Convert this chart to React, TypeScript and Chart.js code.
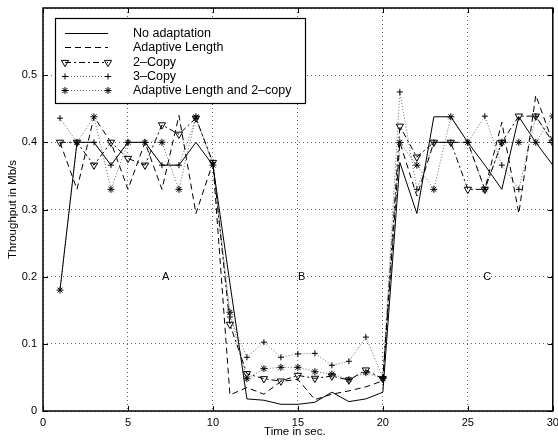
import React, { useEffect, useRef } from 'react';
import { Chart, registerables } from 'chart.js';
import { drawPoint } from 'chart.js/helpers';

Chart.register(...registerables);

const timeSec = [1, 2, 3, 4, 5, 6, 7, 8, 9, 10, 11, 12, 13, 14, 15, 16, 17, 18, 19, 20, 21, 22, 23, 24, 25, 26, 27, 28, 29, 30];

const noAdaptation = [0.18, 0.40, 0.40, 0.366, 0.40, 0.40, 0.366, 0.366, 0.40, 0.366, 0.19, 0.018, 0.016, 0.01, 0.01, 0.013, 0.028, 0.014, 0.018, 0.028, 0.37, 0.294, 0.438, 0.438, 0.40, 0.366, 0.33, 0.438, 0.40, 0.366];
const adaptiveLength = [0.40, 0.33, 0.438, 0.40, 0.33, 0.40, 0.33, 0.44, 0.294, 0.37, 0.024, 0.035, 0.025, 0.044, 0.047, 0.017, 0.025, 0.03, 0.036, 0.045, 0.40, 0.32, 0.40, 0.40, 0.40, 0.33, 0.43, 0.294, 0.47, 0.40];
const twoCopy = [0.40, 0.40, 0.366, 0.40, 0.376, 0.366, 0.426, 0.412, 0.436, 0.37, 0.129, 0.0555, 0.048, 0.0445, 0.053, 0.0486, 0.052, 0.046, 0.061, 0.048, 0.424, 0.378, 0.40, 0.40, 0.33, 0.33, 0.40, 0.439, 0.439, 0.40];
const threeCopy = [0.436, 0.40, 0.40, 0.366, 0.40, 0.40, 0.366, 0.366, 0.436, 0.37, 0.14, 0.08, 0.1025, 0.08, 0.085, 0.0858, 0.068, 0.074, 0.11, 0.05, 0.475, 0.33, 0.40, 0.40, 0.40, 0.439, 0.366, 0.33, 0.439, 0.40];
const adaptiveTwoCopy = [0.18, 0.40, 0.438, 0.33, 0.40, 0.40, 0.40, 0.33, 0.438, 0.366, 0.147, 0.048, 0.063, 0.065, 0.065, 0.0585, 0.055, 0.047, 0.057, 0.0486, 0.40, 0.366, 0.33, 0.438, 0.40, 0.33, 0.40, 0.40, 0.40, 0.439];

const seriesNames = ['No adaptation', 'Adaptive Length', '2\u2013Copy', '3\u2013Copy', 'Adaptive Length and 2\u2013copy'];

const xTickValues = [0, 5, 10, 15, 20, 25, 30];
const yTickLabels = ['0', '0.1', '0.2', '0.3', '0.4', '0.5'];

const regionLabels = ['A', 'B', 'C'];
const regionTimes = [7, 15, 25.9];
const regionLevel = 0.2;

const xTitle = 'Time in sec.';
const yTitle = 'Throughput in Mb/s';

const FONT = '"Liberation Sans", Arial, Helvetica, sans-serif';

const DOT = 'rgba(0,0,0,0.6)';

const styles = [
  { color: '#000', dash: [] as number[], point: false as any, radius: 0, pw: 1 },
  { color: '#000', dash: [6, 4], point: false as any, radius: 0, pw: 1 },
  { color: '#000', dash: [6, 3, 2, 3], point: 'triangle', radius: 4.2, pw: 1, rotation: 180 },
  { color: DOT, dash: [1, 2], point: 'cross', radius: 3, pw: 1 },
  { color: DOT, dash: [1, 2], point: 'star', radius: 3.5, pw: 1 },
];

const overlay = {
  id: 'overlay',
  afterDatasetsDraw(chart: any) {
    const { ctx, chartArea: a, scales } = chart;
    const xs = scales.x;
    const ys = scales.y;
    ctx.save();
    ctx.strokeStyle = '#000';
    ctx.lineWidth = 1.5;
    ctx.setLineDash([]);
    ctx.strokeRect(a.left, a.top, a.right - a.left, a.bottom - a.top);
    ctx.lineWidth = 1;
    ctx.beginPath();
    xTickValues.forEach((v) => {
      const px = Math.round(xs.getPixelForValue(v)) + 0.5;
      ctx.moveTo(px, a.bottom);
      ctx.lineTo(px, a.bottom - 5);
      ctx.moveTo(px, a.top);
      ctx.lineTo(px, a.top + 5);
    });
    yTickLabels.forEach((_, i) => {
      const py = Math.round(ys.getPixelForValue(i / 10)) + 0.5;
      ctx.moveTo(a.left, py);
      ctx.lineTo(a.left + 5, py);
      ctx.moveTo(a.right, py);
      ctx.lineTo(a.right - 5, py);
    });
    ctx.stroke();
    ctx.fillStyle = '#000';
    ctx.font = `11px ${FONT}`;
    ctx.textAlign = 'left';
    ctx.textBaseline = 'middle';
    regionLabels.forEach((lab, i) => {
      ctx.fillText(lab, xs.getPixelForValue(regionTimes[i]), ys.getPixelForValue(regionLevel));
    });
    ctx.font = `11.5px ${FONT}`;
    ctx.textAlign = 'center';
    ctx.textBaseline = 'middle';
    ctx.fillText(xTitle, (a.left + a.right) / 2 - 3, 432);
    ctx.save();
    ctx.translate(13, (a.top + a.bottom) / 2);
    ctx.rotate(-Math.PI / 2);
    ctx.fillText(yTitle, 0, 0);
    ctx.restore();

    const bx = 55, by = 18, bw = 250, bh = 85;
    ctx.fillStyle = '#fff';
    ctx.fillRect(bx, by, bw, bh);
    ctx.strokeStyle = '#000';
    ctx.lineWidth = 1.2;
    ctx.strokeRect(bx + 0.5, by + 0.5, bw, bh);
    const rows = [33, 47, 62, 76, 90];
    seriesNames.forEach((name, i) => {
      const st = styles[i];
      const y = rows[i] + 0.5;
      ctx.save();
      ctx.strokeStyle = st.color;
      ctx.lineWidth = 1;
      ctx.setLineDash(st.dash);
      ctx.beginPath();
      ctx.moveTo(65, y);
      ctx.lineTo(108, y);
      ctx.stroke();
      ctx.setLineDash([]);
      if (st.point) {
        ctx.strokeStyle = '#000';
        ctx.fillStyle = 'rgba(0,0,0,0)';
        ctx.lineWidth = st.pw;
        [65, 108].forEach((px) => {
          drawPoint(ctx, { pointStyle: st.point, radius: st.radius, rotation: (st as any).rotation || 0, borderWidth: st.pw } as any, px, y);
        });
      }
      ctx.restore();
      ctx.fillStyle = '#000';
      ctx.font = `12.5px ${FONT}`;
      ctx.textAlign = 'left';
      ctx.textBaseline = 'middle';
      ctx.fillText(name, 133, rows[i] + 1);
    });
    ctx.restore();
  },
};

export default function App() {
  const ref = useRef<HTMLCanvasElement>(null);
  useEffect(() => {
    const seriesValues = [noAdaptation, adaptiveLength, twoCopy, threeCopy, adaptiveTwoCopy];
    const datasets = seriesValues.map((vals, i) => {
      const st = styles[i];
      return {
        label: seriesNames[i],
        data: timeSec.map((t, j) => ({ x: t, y: vals[j] })),
        borderColor: st.color,
        borderWidth: 1,
        borderDash: st.dash,
        pointStyle: st.point,
        pointRadius: st.radius,
        pointRotation: (st as any).rotation || 0,
        pointBorderColor: '#000',
        pointBackgroundColor: 'rgba(0,0,0,0)',
        pointBorderWidth: st.pw,
        tension: 0,
        fill: false,
      };
    });
    const chart = new Chart(ref.current as HTMLCanvasElement, {
      type: 'line',
      data: { datasets } as any,
      options: {
        responsive: false,
        animation: false,
        devicePixelRatio: 1,
        layout: { padding: { left: 0, right: 5, top: 8, bottom: 0 } },
        plugins: { legend: { display: false }, tooltip: { enabled: false } },
        scales: {
          x: {
            type: 'linear',
            min: 0,
            max: 30,
            afterFit: (s: any) => { s.height = 30; s.paddingLeft = 0; s.paddingRight = 0; },
            ticks: {
              stepSize: 5,
              padding: 5,
              color: '#000',
              font: { family: FONT, size: 11 },
              maxRotation: 0,
            },
            grid: { color: DOT, lineWidth: 1, drawTicks: false },
            border: { display: false, dash: [1, 3] },
          },
          y: {
            type: 'linear',
            min: 0,
            max: 0.6,
            afterFit: (s: any) => { s.width = 43; s.paddingTop = 0; s.paddingBottom = 0; },
            ticks: {
              stepSize: 0.1,
              padding: 6,
              color: '#000',
              font: { family: FONT, size: 11 },
              callback: (v: any) => {
                const i = Math.round(Number(v) * 10);
                return yTickLabels[i] ?? '';
              },
            },
            grid: { color: DOT, lineWidth: 1, drawTicks: false },
            border: { display: false, dash: [1, 3] },
          },
        },
      } as any,
      plugins: [overlay],
    });
    return () => chart.destroy();
  }, []);
  return (
    <div style={{ position: 'absolute', left: 0, top: 0, width: 558, height: 441, background: '#fff' }}>
      <canvas ref={ref} width={558} height={441} style={{ display: 'block' }} />
    </div>
  );
}
